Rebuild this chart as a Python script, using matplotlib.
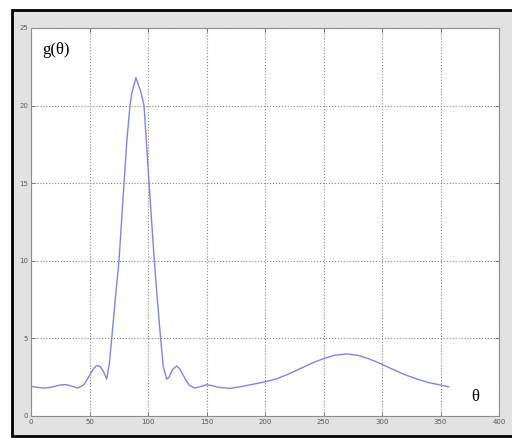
import matplotlib.pyplot as plt
from matplotlib.patches import Rectangle

# values
theta = [0, 5, 10, 15, 20, 25, 30, 35, 40, 45, 50, 53, 56, 59, 62, 64.7, 67, 69, 72,
         75.2, 79.5, 82, 84.6, 86, 89.7, 94, 96.6, 98.5, 100.9, 105.4, 108, 110.8, 113,
         116, 118, 121, 124.5, 127, 131, 135, 140, 145, 150, 155, 160, 170, 180, 190,
         200, 210, 220, 230, 240, 250, 260, 270, 280, 290, 300, 310, 320, 330, 340,
         350, 357]
g = [1.92, 1.85, 1.8, 1.82, 1.9, 2.0, 2.02, 1.92, 1.8, 2.0, 2.6, 3.0, 3.25, 3.2, 2.85,
     2.37, 3.4, 5.0, 7.5, 10.0, 15.0, 17.8, 20.0, 20.75, 21.8, 20.85, 20.0, 17.8, 15.0,
     10.0, 7.5, 5.0, 3.2, 2.37, 2.5, 3.0, 3.22, 3.05, 2.5, 2.0, 1.8, 1.9, 2.02, 1.95,
     1.85, 1.78, 1.9, 2.05, 2.2, 2.4, 2.7, 3.05, 3.4, 3.7, 3.92, 4.0, 3.9, 3.65, 3.33,
     2.98, 2.65, 2.38, 2.15, 2.0, 1.88]
xticks = [0, 50, 100, 150, 200, 250, 300, 350, 400]
yticks = [0, 5, 10, 15, 20, 25]

W, H = 512, 438
fig = plt.figure(figsize=(W / 100, H / 100), dpi=100)
fig.patch.set_facecolor('white')

# grey window with black frame (right edge cut off)
frame = Rectangle((12 / W, 1 - 436 / H), 1.2, (426 / H), transform=fig.transFigure,
                  facecolor='#e2e2e2', edgecolor='black', linewidth=2, zorder=-5)
fig.patches.append(frame)

ax = fig.add_axes([31 / W, 1 - 416 / H, 468 / W, 388 / H])
ax.set_zorder(1)
ax.set_facecolor('white')
ax.plot(theta, g, color='#8282e6', linewidth=1.0)

ax.set_xlim(0, 400)
ax.set_ylim(0, 25)
ax.set_xticks(xticks)
ax.set_yticks(yticks)
ax.tick_params(direction='in', length=3, width=0.6, color='#666666',
               labelsize=5, labelcolor='#555555', pad=2, top=True, right=True)
ax.grid(True, linestyle=':', color='#888888', linewidth=0.8)
for s in ax.spines.values():
    s.set_color('#8c8c8c')
    s.set_linewidth(0.8)

ax.text(0.025, 0.965, 'g(θ)', transform=ax.transAxes, ha='left', va='top',
        fontsize=12, family='Liberation Serif')
ax.text(0.95, 0.05, 'θ', transform=ax.transAxes, ha='center', va='center',
        fontsize=12, family='Liberation Serif')

fig.savefig('out.png', dpi=100)
